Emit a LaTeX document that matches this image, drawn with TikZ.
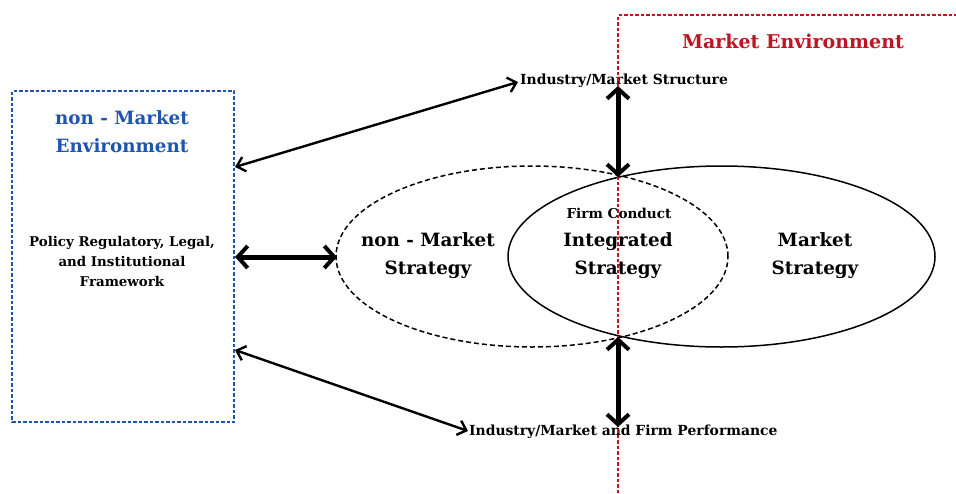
\documentclass[tikz,border=0pt]{standalone}
\usepackage{fontspec}
\setmainfont{DejaVu Serif}
\usetikzlibrary{arrows.meta,shapes.geometric}
\definecolor{envblue}{RGB}{30,85,175}
\definecolor{envred}{RGB}{190,20,35}
\begin{document}
\begin{tikzpicture}[x=1pt,y=-1pt,
  lbl/.style={font=\bfseries, inner sep=0pt, align=center},
  thinarr/.style={line width=2.4pt, {Straight Barb[length=8pt,width=15pt,line width=2.4pt]}-{Straight Barb[length=8pt,width=15pt,line width=2.4pt]}},
  thickarr/.style={line width=5pt, {Straight Barb[length=10pt,width=22pt,line width=4pt]}-{Straight Barb[length=10pt,width=22pt,line width=4pt]}},
  ell/.style={ellipse, inner sep=0pt, line width=1.5pt}
]
\useasboundingbox (0,0) rectangle (956,493);
\fill[white] (0,0) rectangle (956,493);
% left box
\node[draw=envblue, line width=1.2pt, dash pattern=on 3.5pt off 2pt, minimum width=222pt, minimum height=331pt, inner sep=0pt] (nme) at (123,256.5) {};
\node[lbl, text=envblue, font=\bfseries\fontsize{18.3}{28}\selectfont] (nmet) at (122,132) {non - Market\\Environment};
\node[lbl, font=\bfseries\fontsize{13.4}{20}\selectfont] (pol) at (122,261) {Policy Regulatory, Legal,\\and Institutional\\Framework};
% ellipses
\node[ell, draw, dash pattern=on 5pt off 3pt, minimum width=392pt, minimum height=181pt] (nms) at (532,256.5) {};
\node[ell, draw, minimum width=427pt, minimum height=181pt] (ms) at (721.5,256.5) {};
\node[lbl, font=\bfseries\fontsize{18.3}{28}\selectfont] (nmst) at (428,256) {non - Market\\Strategy};
\node[lbl, font=\bfseries\fontsize{18.3}{28}\selectfont] (mst) at (815,256) {Market\\Strategy};
\node[lbl, font=\bfseries\fontsize{18.3}{28}\selectfont] (ist) at (618,256) {Integrated\\Strategy};
\node[lbl, font=\bfseries\fontsize{13.6}{14}\selectfont] (fc) at (619,213) {Firm Conduct};
% outcome labels
\node[lbl, anchor=west, font=\bfseries\fontsize{13.9}{14}\selectfont] (ims) at (520,81) {Industry/Market Structure};
\node[lbl, anchor=west, font=\bfseries\fontsize{13.9}{14}\selectfont] (imp) at (469,432) {Industry/Market and Firm Performance};
% market environment
\coordinate (r1) at (618,493);
\coordinate (r2) at (618,15);
\coordinate (r3) at (956,15);
\draw[envred, line width=1.2pt, dash pattern=on 3.5pt off 2pt] (r1) -- (r2) -- (r3);
\node[lbl, text=envred, font=\bfseries\fontsize{19}{20}\selectfont] (met) at (793,41) {Market Environment};
% coordinates
\coordinate (a1) at (235,167);
\coordinate (a2) at (518,82);
\coordinate (b1) at (235,257);
\coordinate (b2) at (337,257);
\coordinate (c1) at (235,350);
\coordinate (c2) at (468,431);
\coordinate (d1) at (618,86);
\coordinate (d2) at (618,177);
\coordinate (e1) at (618,337);
\coordinate (e2) at (618,427);
\draw[thinarr] (a1) -- (a2);
\draw[thickarr] (b1) -- (b2);
\draw[thinarr] (c1) -- (c2);
\draw[thickarr] (d1) -- (d2);
\draw[thickarr] (e1) -- (e2);
\end{tikzpicture}
\end{document}
